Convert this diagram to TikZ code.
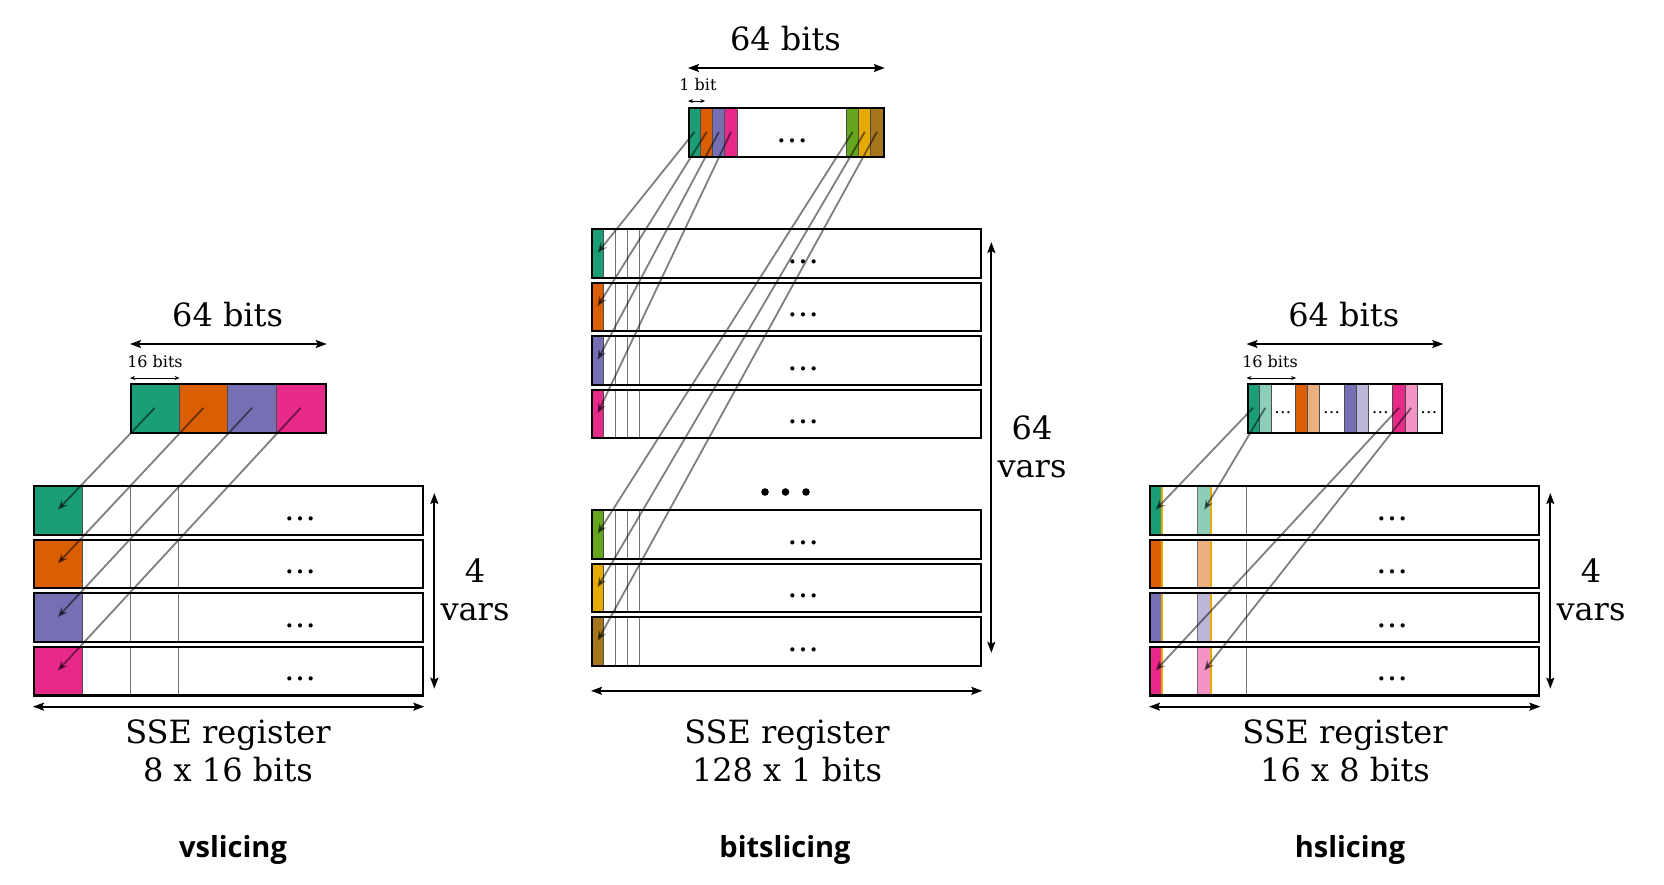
\documentclass[tikz,border=0pt]{standalone}
\usepackage{fontspec}
\setmainfont{DejaVu Serif}
\newfontfamily\namefont{Open Sans}
\usetikzlibrary{arrows.meta}

\definecolor{dteal}{HTML}{1B9E77}
\definecolor{dorange}{HTML}{D95F02}
\definecolor{dpurple}{HTML}{7570B3}
\definecolor{dpink}{HTML}{E7298A}
\definecolor{dgreen}{HTML}{66A61E}
\definecolor{dyellow}{HTML}{E6AB02}
\definecolor{dbrown}{HTML}{A6761D}

\tikzset{
	regbox/.style={draw=black, line width=1.1pt, inner sep=0pt, minimum height=24.32pt, anchor=north west},
	bitcell/.style={fill=#1, draw=black!70, line width=0.5pt, inner sep=0pt, minimum height=24.32pt, anchor=north west},
	divline/.style={draw=black!55, line width=0.5pt},
	conn/.style={draw=black, opacity=0.5, line width=0.9pt, -{Stealth[length=5pt,width=4pt]}},
	dimarrow/.style={line width=0.85pt, {Stealth[length=5.5pt,width=4pt,inset=1pt]}-{Stealth[length=5.5pt,width=4pt,inset=1pt]}},
	smalldim/.style={line width=0.5pt, {Stealth[length=2.5pt,width=2pt]}-{Stealth[length=2.5pt,width=2pt]}},
	biglbl/.style={font=\fontsize{16}{19}\selectfont, inner sep=0pt, align=center},
	smalllbl/.style={font=\fontsize{8}{9.6}\selectfont, inner sep=0pt, anchor=base},
	rowdots/.style={font=\fontsize{16}{19}\selectfont, inner sep=0pt, anchor=base},
	tinydots/.style={font=\fontsize{8.5}{10}\selectfont, inner sep=0pt, anchor=base},
	slicename/.style={font=\namefont\bfseries\fontsize{14.5}{17}\selectfont, inner sep=0pt, anchor=base},
}

\begin{document}
\begin{tikzpicture}[x=0.5pt, y=-0.5pt]
\useasboundingbox (0,0) rectangle (1664,884);

% vslicing
\foreach [count=\i] \col in {dteal,dorange,dpurple,dpink}{
	\node[bitcell=\col, minimum width=24.32pt] (vt\i) at ({130+48.64*(\i-1)},383) {};
}
\node[regbox, minimum width=97.28pt] (vtop) at (130,383) {};

\foreach [count=\i] \y/\col in {485/dteal,538.6/dorange,592.2/dpurple,645.8/dpink}{
	\node[bitcell=\col, minimum width=24.32pt] (vc\i) at (33,\y) {};
	\draw[divline] ([xshift=48.64pt]vc\i.north west) -- ([xshift=48.64pt]vc\i.south west);
	\draw[divline] ([xshift=72.96pt]vc\i.north west) -- ([xshift=72.96pt]vc\i.south west);
	\node[regbox, minimum width=194.56pt] (vr\i) at (33,\y) {};
	\node[rowdots] (vd\i) at (300,\y+35) {…};
}

\draw[dimarrow] ([yshift=19.5pt]vtop.north west) -- ([yshift=19.5pt]vtop.north east);
\node[biglbl, anchor=base] (vbits) at (227.6,326.5) {64 bits};
\draw[smalldim] ([yshift=2.5pt]vt1.north west) -- ([yshift=2.5pt]vt1.north east);
\node[smalllbl] (vsub) at (155,367) {16 bits};
\draw[dimarrow] ([xshift=5pt,yshift=-4pt]vr1.north east) -- ([xshift=5pt,yshift=4pt]vr4.south east);
\node[biglbl] (vvars) at (475,590) {4\\vars};
\draw[dimarrow] ([yshift=-5pt]vr4.south west) -- ([yshift=-5pt]vr4.south east);
\node[biglbl, anchor=base] (vreg) at (228,781) {SSE register\\8 x 16 bits};
\node[slicename] (vname) at (233,857) {vslicing};

\foreach \i in {1,...,4}{
	\draw[conn] (vt\i.center) -- (vc\i.center);
}

% bitslicing
\foreach [count=\i] \x/\col in {0/dteal,1/dorange,2/dpurple,3/dpink,13/dgreen,14/dyellow,15/dbrown}{
	\node[bitcell=\col, minimum width=6.08pt] (bt\i) at ({688+12.16*\x},107) {};
}
\node[regbox, minimum width=97.28pt] (btop) at (688,107) {};
\node[rowdots] (btdots) at (792,142) {…};

\foreach [count=\i] \y/\col in {228/dteal,281.5/dorange,335/dpurple,388.5/dpink,509/dgreen,562.5/dyellow,616/dbrown}{
	\node[bitcell=\col, minimum width=6.08pt] (bc\i) at (591,\y) {};
	\foreach \k in {2,3,4}{
		\draw[divline] ([xshift={6.08pt*\k}]bc\i.north west) -- ([xshift={6.08pt*\k}]bc\i.south west);
	}
	\node[regbox, minimum width=194.56pt] (br\i) at (591,\y) {};
	\node[rowdots] (bd\i) at (803,\y+35) {…};
}
\foreach \x in {765,785.5,806}{
	\fill (\x,492) circle (1.9pt);
}

\draw[dimarrow] ([yshift=19.5pt]btop.north west) -- ([yshift=19.5pt]btop.north east);
\node[biglbl, anchor=base] (bbits) at (785.5,50.7) {64 bits};
\draw[smalldim] ([yshift=3pt]bt1.north west) -- ([yshift=3pt,xshift=2pt]bt1.north east);
\node[smalllbl] (bsub) at (698,90.7) {1 bit};
\draw[dimarrow] ([xshift=4.5pt,yshift=-7pt]br1.north east) -- ([xshift=4.5pt,yshift=7pt]br7.south east);
\node[biglbl] (bvars) at (1032,447) {64\\vars};
\draw[dimarrow] ([yshift=-12pt]br7.south west) -- ([yshift=-12pt]br7.south east);
\node[biglbl, anchor=base] (breg) at (787,781) {SSE register\\128 x 1 bits};
\node[slicename] (bname) at (785,857) {bitslicing};

\foreach \i in {1,...,7}{
	\draw[conn] (bt\i.center) -- (bc\i.center);
}

% hslicing
\foreach [count=\i] \col in {dteal,dorange,dpurple,dpink}{
	\node[bitcell=\col, minimum width=6.08pt] (hta\i) at ({1246.5+48.64*(\i-1)},383) {};
	\node[bitcell=\col!50, minimum width=6.08pt] (htb\i) at ({1258.66+48.64*(\i-1)},383) {};
	\node[tinydots] (htd\i) at ({1282.98+48.64*(\i-1)},413) {…};
}
\node[regbox, minimum width=97.28pt] (htop) at (1246.5,383) {};

\foreach [count=\i] \y/\col in {485/dteal,538.6/dorange,592.2/dpurple,645.8/dpink}{
	\node[bitcell=\col, draw=none, minimum width=6.08pt] (hca\i) at (1149,\y) {};
	\node[bitcell=\col!50, draw=none, minimum width=6.08pt] (hcb\i) at (1197.64,\y) {};
	\draw[dyellow, line width=0.7pt] (hca\i.north east) -- (hca\i.south east);
	\draw[dyellow, line width=0.7pt] (hcb\i.north east) -- (hcb\i.south east);
	\draw[divline] (hcb\i.north west) -- (hcb\i.south west);
	\draw[divline] ([xshift=24.32pt]hcb\i.north west) -- ([xshift=24.32pt]hcb\i.south west);
	\node[regbox, minimum width=194.56pt] (hr\i) at (1149,\y) {};
	\node[rowdots] (hd\i) at (1392,\y+35) {…};
}

\draw[dimarrow] ([yshift=19.5pt]htop.north west) -- ([yshift=19.5pt]htop.north east);
\node[biglbl, anchor=base] (hbits) at (1343.75,326.3) {64 bits};
\draw[smalldim] ([yshift=2.5pt]hta1.north west) -- ([yshift=2.5pt,xshift=18.24pt]hta1.north east);
\node[smalllbl] (hsub) at (1270,367) {16 bits};
\draw[dimarrow] ([xshift=5pt,yshift=-4pt]hr1.north east) -- ([xshift=5pt,yshift=4pt]hr4.south east);
\node[biglbl] (hvars) at (1591,590) {4\\vars};
\draw[dimarrow] ([yshift=-5pt]hr4.south west) -- ([yshift=-5pt]hr4.south east);
\node[biglbl, anchor=base] (hreg) at (1345,781) {SSE register\\16 x 8 bits};
\node[slicename] (hname) at (1350,857) {hslicing};

\foreach \i in {1,4}{
	\draw[conn] (hta\i.center) -- (hca\i.center);
	\draw[conn] (htb\i.center) -- (hcb\i.center);
}

\end{tikzpicture}
\end{document}
